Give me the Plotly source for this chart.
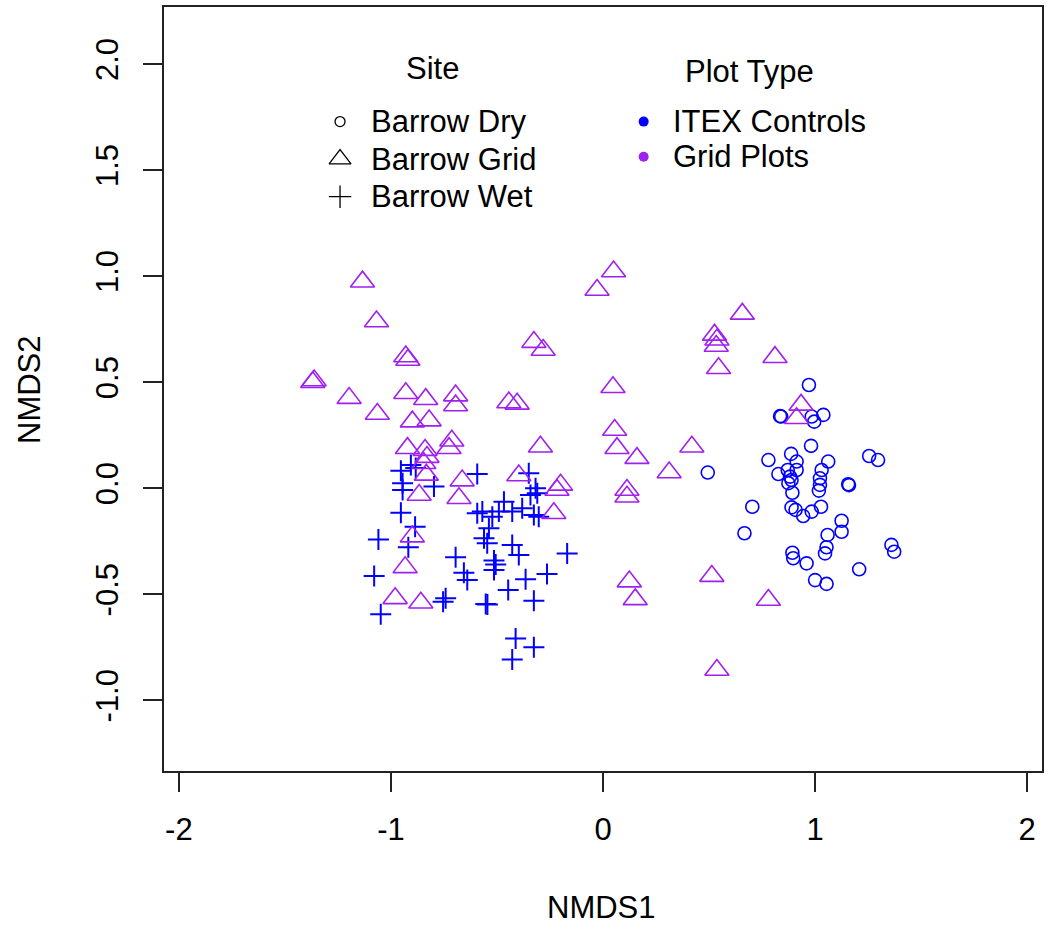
import plotly.graph_objects as go

# ---- data (NMDS scores) ----
dry_x = [0.971, 0.840, 0.835, 0.984, 0.996, 1.039, 0.981, 0.780, 0.887, 0.913, 0.827, 0.871, 0.913,
         0.882, 0.874, 0.893, 0.889, 1.062, 1.031, 1.023, 1.023, 1.018, 1.156, 1.160, 1.255, 1.297,
         0.494, 0.704, 0.667, 0.889, 0.908, 0.944, 0.984, 1.028, 1.125, 1.125, 1.059, 1.054, 1.047,
         0.893, 0.897, 0.960, 1.000, 1.054, 1.208, 1.360, 1.373]
dry_y = [0.487, 0.338, 0.340, 0.338, 0.314, 0.346, 0.200, 0.133, 0.162, 0.126, 0.067, 0.086, 0.086,
         0.055, 0.024, -0.021, 0.039, 0.126, 0.086, 0.047, 0.016, -0.011, 0.019, 0.015, 0.152, 0.133,
         0.074, -0.087, -0.212, -0.090, -0.102, -0.131, -0.110, -0.087, -0.153, -0.205, -0.220, -0.278, -0.307,
         -0.304, -0.330, -0.354, -0.433, -0.451, -0.382, -0.267, -0.299]

wet_x = [-0.953, -0.906, -0.883, -0.945, -0.945, -0.797, -0.953, -0.886, -1.059, -0.918, -1.079, -1.048,
         -0.593, -0.350, -0.318, -0.342, -0.310, -0.569, -0.593, -0.467, -0.491, -0.428, -0.381, -0.326,
         -0.303, -0.522, -0.538, -0.561, -0.546, -0.428, -0.397, -0.695, -0.656, -0.640, -0.514, -0.506,
         -0.514, -0.169, -0.264, -0.365, -0.447, -0.326, -0.742, -0.754, -0.553, -0.545, -0.412, -0.326, -0.428]
wet_y = [0.083, 0.110, 0.095, 0.024, -0.008, 0.008, -0.115, -0.181, -0.241, -0.278, -0.414, -0.594,
         0.067, 0.071, 0.000, -0.032, -0.024, -0.110, -0.118, -0.063, -0.110, -0.110, -0.094, -0.126,
         -0.134, -0.134, -0.189, -0.236, -0.259, -0.267, -0.315, -0.325, -0.398, -0.433, -0.340, -0.360,
         -0.385, -0.307, -0.404, -0.429, -0.480, -0.530, -0.519, -0.535, -0.546, -0.548, -0.708, -0.750, -0.807]

grid_x = [-1.134, -1.068, -0.930, -0.920, -1.369, -1.362, -1.197, -1.064, -0.930, -0.836, -0.695, -0.695,
          -0.899, -0.820, -0.326, -0.282, -0.028, 0.050, -0.444, -0.405, -0.922, -0.839, -0.830, -0.845,
          -0.833, -0.713, -0.726, -0.295, -0.664, -0.679, -0.867, -0.397, -0.200, -0.217, -0.232, -0.899,
          -0.933, -0.980, -0.859, 0.657, 0.526, 0.537, 0.534, 0.811, 0.545, 0.047, 0.934, 0.913, 0.055,
          0.066, 0.160, 0.419, 0.312, 0.113, 0.113, 0.124, 0.152, 0.513, 0.780, 0.537]
grid_y = [0.974, 0.786, 0.621, 0.605, 0.500, 0.508, 0.425, 0.350, 0.448, 0.420, 0.437, 0.390,
          0.314, 0.319, 0.689, 0.652, 0.935, 1.022, 0.404, 0.398, 0.189, 0.180, 0.147, 0.118,
          0.063, 0.224, 0.189, 0.196, 0.036, -0.047, -0.032, 0.060, 0.016, -0.008, -0.118, -0.228,
          -0.373, -0.519, -0.540, 0.822, 0.723, 0.700, 0.671, 0.618, 0.566, 0.476, 0.393, 0.330, 0.275,
          0.189, 0.142, 0.196, 0.074, -0.008, -0.040, -0.440, -0.524, -0.414, -0.527, -0.857]

x_ticks = [-2, -1, 0, 1, 2]
x_tick_labels = ["-2", "-1", "0", "1", "2"]
y_ticks = [-1.0, -0.5, 0.0, 0.5, 1.0, 1.5, 2.0]
y_tick_labels = ["-1.0", "-0.5", "0.0", "0.5", "1.0", "1.5", "2.0"]

site_labels = ["Barrow Dry", "Barrow Grid", "Barrow Wet"]
site_symbols = ["circle-open", "triangle-up-open", "cross-thin-open"]
type_labels = ["ITEX Controls", "Grid Plots"]
type_colors = ["#0000FF", "#A020F0"]

BLUE, PURPLE = type_colors
FONT = "Liberation Sans, Arial, sans-serif"
FS = 31
AX = "#222222"

fig = go.Figure()
fig.add_trace(go.Scatter(x=dry_x, y=dry_y, mode="markers", name="Barrow Dry",
                         marker=dict(symbol="circle-open", size=13, color=BLUE, line=dict(width=1.6, color=BLUE))))
fig.add_trace(go.Scatter(x=wet_x, y=wet_y, mode="markers", name="Barrow Wet",
                         marker=dict(symbol="cross-thin-open", size=15, color=BLUE, line=dict(width=2, color=BLUE))))
fig.add_trace(go.Scatter(x=grid_x, y=grid_y, mode="markers", name="Barrow Grid",
                         marker=dict(symbol="triangle-up-open", size=21, color=PURPLE, line=dict(width=1.6, color=PURPLE))))

# ---- custom two-column legend (overlay axes in plot-area fractions) ----
leg_site_y = [0.850, 0.801, 0.7517]
leg_type_y = [0.850, 0.804]
site_sizes = [10, 19, 16]
txt = dict(family=FONT, size=FS, color="black")
for s, sym, yy, sz in zip(site_labels, site_symbols, leg_site_y, site_sizes):
    fig.add_trace(go.Scatter(x=[0.2005], y=[yy], mode="markers", xaxis="x2", yaxis="y2", hoverinfo="skip",
                             marker=dict(symbol=sym, size=sz, color="black", line=dict(width=1.3, color="black"))))
    fig.add_annotation(text=s, x=0.2340, y=yy, xref="paper", yref="paper", xanchor="left", yanchor="middle",
                       showarrow=False, font=txt)
for t, c, yy in zip(type_labels, type_colors, leg_type_y):
    fig.add_trace(go.Scatter(x=[0.5463], y=[yy], mode="markers", xaxis="x2", yaxis="y2", hoverinfo="skip",
                             marker=dict(symbol="circle", size=10, color=c, line=dict(width=0))))
    fig.add_annotation(text=t, x=0.5770, y=yy, xref="paper", yref="paper", xanchor="left", yanchor="middle",
                       showarrow=False, font=txt)
fig.add_annotation(text="Site", x=0.3053, y=0.9189, xref="paper", yref="paper", showarrow=False,
                   xanchor="center", yanchor="middle", font=txt)
fig.add_annotation(text="Plot Type", x=0.6667, y=0.9162, xref="paper", yref="paper", showarrow=False,
                   xanchor="center", yanchor="middle", font=txt)

# axis titles
fig.add_annotation(text="NMDS1", x=0.4985, y=-0.1793, xref="paper", yref="paper", showarrow=False,
                   xanchor="center", yanchor="middle", font=txt)
fig.add_annotation(text="NMDS2", x=-0.1526, y=0.4987, xref="paper", yref="paper", showarrow=False,
                   xanchor="center", yanchor="middle", textangle=-90, font=txt)

fig.update_layout(
    width=1049, height=925,
    margin=dict(l=164, r=5, t=7, b=154),
    plot_bgcolor="white", paper_bgcolor="white",
    showlegend=False,
    font=txt,
    xaxis=dict(range=[-2.07, 2.07], tickmode="array", tickvals=x_ticks, ticktext=x_tick_labels,
               ticks="outside", ticklen=19, tickwidth=1.5, tickcolor=AX, ticklabelstandoff=11,
               showline=True, linecolor=AX, linewidth=1.5, mirror=True,
               showgrid=False, zeroline=False, tickfont=txt),
    yaxis=dict(range=[-1.333, 2.269], tickmode="array", tickvals=y_ticks, ticktext=y_tick_labels,
               ticks="outside", ticklen=19, tickwidth=1.5, tickcolor=AX, tickangle=-90, ticklabelstandoff=13,
               showline=True, linecolor=AX, linewidth=1.5, mirror=True,
               showgrid=False, zeroline=False, tickfont=txt),
    xaxis2=dict(range=[0, 1], overlaying="x", visible=False, fixedrange=True),
    yaxis2=dict(range=[0, 1], overlaying="y", visible=False, fixedrange=True),
)

fig.write_html("out.html")
